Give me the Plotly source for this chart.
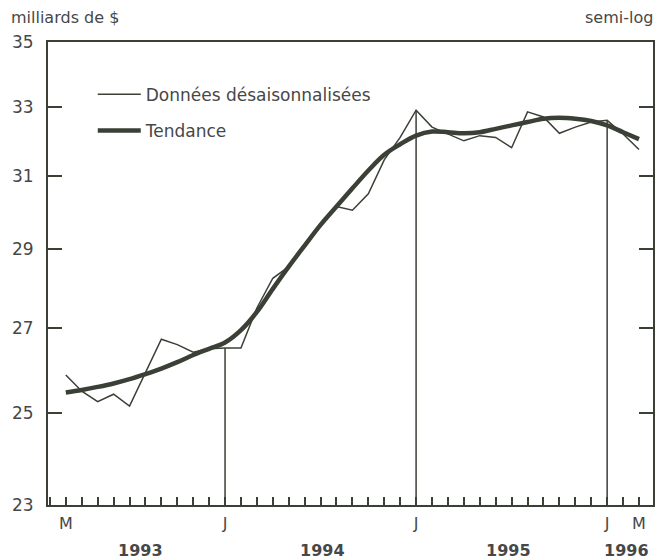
import math
import plotly.graph_objects as go

# Month index 0 = March 1993 ... 36 = March 1996
months = list(range(37))
data_sa = [25.88, 25.5, 25.26, 25.43, 25.16, 25.95, 26.73, 26.6, 26.42, 26.5,
           26.52, 26.52, 27.5, 28.25, 28.55, 29.1, 29.65, 30.15, 30.05, 30.5,
           31.45, 32.1, 32.9, 32.4, 32.2, 32.0, 32.15, 32.1, 31.8, 32.85,
           32.7, 32.22, 32.4, 32.55, 32.6, 32.2, 31.75]
trend = [25.47, 25.53, 25.6, 25.68, 25.78, 25.9, 26.03, 26.18, 26.35, 26.5,
         26.65, 26.95, 27.4, 27.98, 28.55, 29.1, 29.65, 30.15, 30.65, 31.15,
         31.6, 31.9, 32.15, 32.27, 32.25, 32.22, 32.25, 32.35, 32.45, 32.55,
         32.65, 32.68, 32.65, 32.58, 32.45, 32.25, 32.05]

tick_idx = [0, 10, 22, 34, 36]
tick_text = ["M", "J", "J", "J", "M"]
january_idx = [10, 22, 34]
year_pos = [4.66, 16.1, 27.8, 35.2]
year_text = ["1993", "1994", "1995", "1996"]
y_ticks = [23, 25, 27, 29, 31, 33, 35]
y_min, y_max = 23, 35

LINE = "#3a4036"
TEXT = "#474747"
FONT = "DejaVu Sans, Verdana, sans-serif"

# vertical January markers from the axis up to the series value
vx, vy = [], []
for j in january_idx:
    vx += [j, j, None]
    vy += [y_min, data_sa[j], None]

fig = go.Figure()
fig.add_trace(go.Scatter(x=vx, y=vy, mode="lines", line=dict(color=LINE, width=1.5),
                         showlegend=False, hoverinfo="skip"))
fig.add_trace(go.Scatter(x=months, y=data_sa, mode="lines", name="Données désaisonnalisées",
                         line=dict(color=LINE, width=1.5), legendgroup="a"))
fig.add_trace(go.Scatter(x=months, y=trend, mode="lines", name="Tendance",
                         line=dict(color=LINE, width=4.5, shape="spline"), legendgroup="b"))

# page body has an 8px default margin: size the figure so the plot lands in place
fig.update_layout(
    width=655, height=551,
    margin=dict(l=40, r=10, t=34, b=54),
    paper_bgcolor="white", plot_bgcolor="white",
    font=dict(family=FONT, size=17, color=TEXT),
    showlegend=True,
    legend=dict(x=0.074, y=0.925, xanchor="left", yanchor="top", itemwidth=43,
                bgcolor="rgba(0,0,0,0)", font=dict(size=17, color=TEXT),
                tracegroupgap=11),
    xaxis=dict(range=[-1.12, 36.88], showgrid=False, zeroline=False, automargin=False,
               showline=True, linecolor=LINE, linewidth=2, mirror=True,
               tickvals=tick_idx, ticktext=tick_text, ticks="inside", ticklen=8,
               tickcolor=LINE, tickwidth=1.5, ticklabelstandoff=3,
               tickfont=dict(size=16),
               minor=dict(dtick=1, tick0=0, ticks="inside", ticklen=8,
                          tickcolor=LINE, tickwidth=1.5)),
    yaxis=dict(type="log", range=[math.log10(y_min), math.log10(y_max)], automargin=False,
               showgrid=False, zeroline=False, showline=True, linecolor=LINE,
               linewidth=2, mirror="ticks", tickvals=y_ticks,
               ticktext=[str(v) for v in y_ticks], ticks="inside", ticklen=14,
               tickcolor=LINE, tickwidth=2, ticklabelstandoff=9),
)

for xp, t in zip(year_pos, year_text):
    fig.add_annotation(x=xp, y=-0.099, xref="x", yref="paper", text="<b>" + t + "</b>",
                       showarrow=False, yanchor="middle", font=dict(size=16, color=TEXT))

fig.add_annotation(x=-0.064, y=1.052, xref="paper", yref="paper", text="milliards de $",
                   showarrow=False, xanchor="left", yanchor="middle",
                   font=dict(size=16, color=TEXT))
fig.add_annotation(x=1.003, y=1.052, xref="paper", yref="paper", text="semi-log",
                   showarrow=False, xanchor="right", yanchor="middle",
                   font=dict(size=16, color=TEXT))

fig.write_html("out.html")
